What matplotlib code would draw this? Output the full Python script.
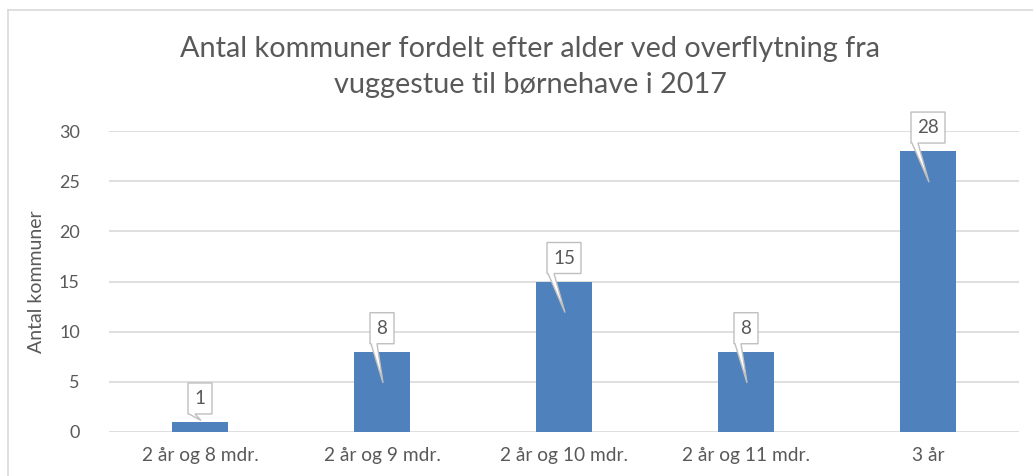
import matplotlib
matplotlib.use("Agg")
import matplotlib.pyplot as plt
import matplotlib.transforms as mtransforms
from matplotlib.patches import Polygon
from matplotlib.lines import Line2D

categories = ["2 år og 8 mdr.", "2 år og 9 mdr.", "2 år og 10 mdr.", "2 år og 11 mdr.", "3 år"]
values = [1, 8, 15, 8, 28]
yticks = [0, 5, 10, 15, 20, 25, 30]
title = "Antal kommuner fordelt efter alder ved overflytning fra\nvuggestue til børnehave i 2017"
ylabel = "Antal kommuner"

W, H = 1033, 476
DPI = 100
plt.rcParams['font.family'] = ['Lato', 'DejaVu Sans']
TXT = "#595959"
BAR = "#4F81BD"
GRID = "#D9D9D9"

fig = plt.figure(figsize=(W / DPI, H / DPI), dpi=DPI)
ax = fig.add_axes([109 / W, (H - 432) / H, 910 / W, 301 / H])

x = list(range(len(categories)))
ax.bar(x, values, width=0.31, color=BAR, zorder=2)
ax.set_xlim(-0.5, len(categories) - 0.5)
ax.set_ylim(0, 30)
ax.set_yticks(yticks)
ax.set_yticklabels([str(t) for t in yticks])
ax.set_xticks(x)
ax.set_xticklabels(categories)
ax.yaxis.grid(True, color=GRID, linewidth=1.2, zorder=0)
for s in ax.spines.values():
    s.set_visible(False)
ax.tick_params(axis='both', length=0, labelcolor=TXT)
ax.tick_params(axis='y', pad=21, labelsize=13)
ax.tick_params(axis='x', pad=11, labelsize=13.8)
ax.set_ylabel(ylabel, fontsize=14, color=TXT, labelpad=10)

fig.text(530 / W, 1 - 67 / H, title, ha='center', va='center', fontsize=20.8,
         color=TXT, linespacing=1.45)

# callouts
for xi, v in zip(x, values):
    label = str(v)
    bw = 24 if len(label) == 1 else 34
    bh = 31
    gap = 8
    tip_v = v - 3.1 if v > 3.1 else v + 0.15
    tr = mtransforms.Affine2D() + mtransforms.ScaledTranslation(xi, v, ax.transData)
    _, tip_disp = ax.transData.transform((xi, tip_v))
    _, top_disp = ax.transData.transform((xi, v))
    tip_dy = tip_disp - top_disp
    left = -bw / 2
    bottom = gap
    verts = [
        (left, bottom),
        (left + 1, bottom),
        (1, tip_dy),
        (left + 7, bottom),
        (left + bw, bottom),
        (left + bw, bottom + bh),
        (left, bottom + bh),
    ]
    poly = Polygon(verts, closed=True, facecolor='white', edgecolor='#BFBFBF',
                   linewidth=1.0, transform=tr, zorder=4, clip_on=False)
    ax.add_patch(poly)
    tt = mtransforms.Affine2D().translate(0, bottom + bh / 2) + mtransforms.ScaledTranslation(xi, v, ax.transData)
    ax.text(0, 0, label, transform=tt, ha='center', va='center', fontsize=13.5,
            color=TXT, zorder=5)

# chart border (partial, cropped)
fig.add_artist(Line2D([8 / W, 8 / W], [0, 1 - 9.5 / H], transform=fig.transFigure,
                      color='#D9D9D9', linewidth=1.2))
fig.add_artist(Line2D([8 / W, 1], [1 - 9.5 / H, 1 - 9.5 / H], transform=fig.transFigure,
                      color='#D9D9D9', linewidth=1.2))

fig.savefig("out.png", dpi=DPI)
